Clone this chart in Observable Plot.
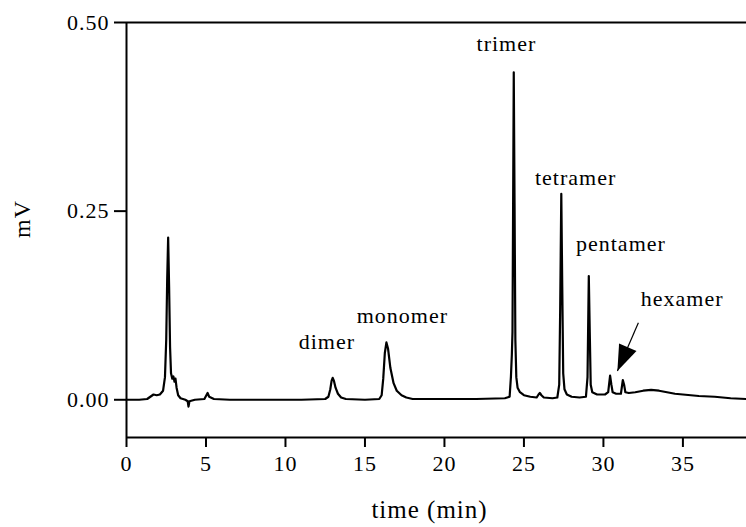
<!DOCTYPE html>
<html>
<head>
<meta charset="utf-8">
<script src="https://cdn.jsdelivr.net/npm/d3@7"></script>
<script src="https://cdn.jsdelivr.net/npm/@observablehq/plot@0.6"></script>
<style>
  body { margin: 0; background: #fff; }
  #chart svg { display: block; }
</style>
</head>
<body>
<div id="chart"></div>
<script>
// Chromatogram trace: retention time (min) and detector signal (mV)
const timeMin = [
  0.0, 0.8, 1.3, 1.5, 1.7, 1.9, 2.1, 2.3, 2.42, 2.5, 2.56, 2.62, 2.68, 2.74, 2.8, 2.88,
  2.95, 3.02, 3.08, 3.15, 3.25, 3.4, 3.7, 3.85, 3.9, 3.96, 4.3, 4.9, 5.1, 5.2, 5.5, 6.5,
  9.0, 11.0, 12.5, 12.7, 12.82, 12.9, 12.97, 13.05, 13.15, 13.3, 13.5, 13.8, 15.0,
  15.9, 16.05, 16.15, 16.25, 16.35, 16.45, 16.6, 16.8, 17.0, 17.3, 17.6, 18.0, 20.0, 22.0,
  23.8, 24.1, 24.18, 24.24, 24.28, 24.32, 24.36, 24.41, 24.46, 24.52, 24.6, 24.75, 25.0,
  25.4, 25.8, 25.92, 26.0, 26.1, 26.25, 26.8, 27.1, 27.22, 27.28, 27.35, 27.41, 27.47,
  27.55, 27.7, 28.0, 28.5, 28.9, 29.0, 29.08, 29.14, 29.2, 29.3, 29.6, 30.1, 30.3, 30.42,
  30.5, 30.58, 30.8, 31.1, 31.22, 31.3, 31.38, 31.6, 32.0, 32.5, 33.0, 33.5, 34.0, 34.5,
  35.0, 36.0, 37.0, 38.0, 39.0
];
const signalMv = [
  0.000, 0.000, 0.001, 0.004, 0.007, 0.006, 0.007, 0.012, 0.030, 0.080, 0.160, 0.215, 0.150, 0.070, 0.035, 0.028,
  0.031, 0.024, 0.028, 0.016, 0.006, 0.002, 0.000, -0.002, -0.009, -0.002, 0.000, 0.001, 0.009, 0.004, 0.001, 0.000,
  0.000, 0.000, 0.001, 0.004, 0.014, 0.025, 0.029, 0.025, 0.016, 0.008, 0.003, 0.001, 0.000,
  0.001, 0.006, 0.028, 0.062, 0.076, 0.068, 0.042, 0.022, 0.012, 0.006, 0.003, 0.001, 0.001, 0.001,
  0.002, 0.004, 0.030, 0.060, 0.090, 0.260, 0.434, 0.260, 0.080, 0.030, 0.016, 0.010, 0.006,
  0.004, 0.003, 0.007, 0.009, 0.006, 0.003, 0.002, 0.003, 0.020, 0.120, 0.273, 0.150, 0.035,
  0.014, 0.007, 0.004, 0.003, 0.004, 0.030, 0.164, 0.090, 0.020, 0.010, 0.007, 0.007, 0.010, 0.032,
  0.020, 0.010, 0.008, 0.008, 0.026, 0.020, 0.010, 0.009, 0.010, 0.012, 0.013, 0.012, 0.010, 0.008,
  0.007, 0.005, 0.004, 0.002, 0.001
];

// Peak annotations (text centre in data units)
const peakNames = ["dimer", "monomer", "trimer", "tetramer", "pentamer", "hexamer"];
const peakLabelTime = [12.6, 17.35, 23.9, 28.25, 31.1, 34.95];
const peakLabelMv = [0.076, 0.111, 0.472, 0.294, 0.207, 0.134];

// Arrow pointing at the hexamer peak
const arrowTail = { t: 32.2, mv: 0.102 };
const arrowTip = { t: 30.88, mv: 0.038 };

// Axis ticks
const xTicks = [0, 5, 10, 15, 20, 25, 30, 35];
const yTicks = [0, 0.25, 0.5];
const xDomain = [0, 39];
const yDomain = [-0.05, 0.5];

const width = 746, height = 527;
const margin = { top: 22, right: 0, bottom: 90, left: 126 };

const trace = timeMin.map((t, i) => ({ t, mv: signalMv[i] }));
const labels = peakNames.map((name, i) => ({ name, t: peakLabelTime[i], mv: peakLabelMv[i] }));

// Screen-space direction of the arrow, used to orient the filled head
const sx = d3.scaleLinear(xDomain, [margin.left, width - margin.right]);
const sy = d3.scaleLinear(yDomain, [height - margin.bottom, margin.top]);
const dx = sx(arrowTip.t) - sx(arrowTail.t);
const dy = sy(arrowTip.mv) - sy(arrowTail.mv);
const headAngle = Math.atan2(dx, -dy) * 180 / Math.PI;

// Narrow filled triangle with its tip at the origin, pointing up
const arrowHead = {
  draw(context) {
    context.moveTo(0, 0);
    context.lineTo(9.5, 26);
    context.lineTo(-9.5, 26);
    context.closePath();
  }
};

const chart = Plot.plot({
  width, height,
  marginTop: margin.top, marginRight: margin.right,
  marginBottom: margin.bottom, marginLeft: margin.left,
  style: { fontFamily: "'Liberation Serif', 'Times New Roman', serif", fontSize: "22px", letterSpacing: "1px", color: "#000", background: "#fff" },
  x: { domain: xDomain },
  y: { domain: yDomain },
  marks: [
    Plot.ruleY([yDomain[1]], { stroke: "#000", strokeWidth: 2 }),
    Plot.ruleY([yDomain[0]], { stroke: "#000", strokeWidth: 2 }),
    Plot.ruleX([xDomain[0]], { y1: yDomain[0], y2: yDomain[1], stroke: "#000", strokeWidth: 2 }),
    Plot.axisX({ ticks: xTicks, tickSize: 10, tickPadding: 8, label: null, strokeWidth: 2, fontSize: 22 }),
    Plot.axisY({ ticks: yTicks, tickSize: 12, tickPadding: 5, tickFormat: d3.format(".2f"), label: null, strokeWidth: 2, fontSize: 22 }),
    Plot.line(trace, { x: "t", y: "mv", stroke: "#000", strokeWidth: 2.2, strokeLinejoin: "round" }),
    Plot.text(labels, { x: "t", y: "mv", text: "name", fontSize: 22, textAnchor: "middle", lineAnchor: "middle", fill: "#000" }),
    Plot.link([arrowTail], { x1: "t", y1: "mv", x2: () => arrowTip.t, y2: () => arrowTip.mv, stroke: "#000", strokeWidth: 1.2 }),
    Plot.dot([arrowTip], { x: "t", y: "mv", symbol: arrowHead, rotate: headAngle, r: 5, fill: "#000", stroke: "none" }),
    Plot.text(["time (min)"], { frameAnchor: "bottom", dx: -7, dy: 72, fontSize: 25, lineAnchor: "middle", fill: "#000" }),
    Plot.text(["mV"], { frameAnchor: "left", dx: -104, dy: 8, rotate: -90, fontSize: 24, lineAnchor: "middle", fill: "#000" })
  ]
});

document.getElementById("chart").appendChild(chart);
</script>
</body>
</html>
